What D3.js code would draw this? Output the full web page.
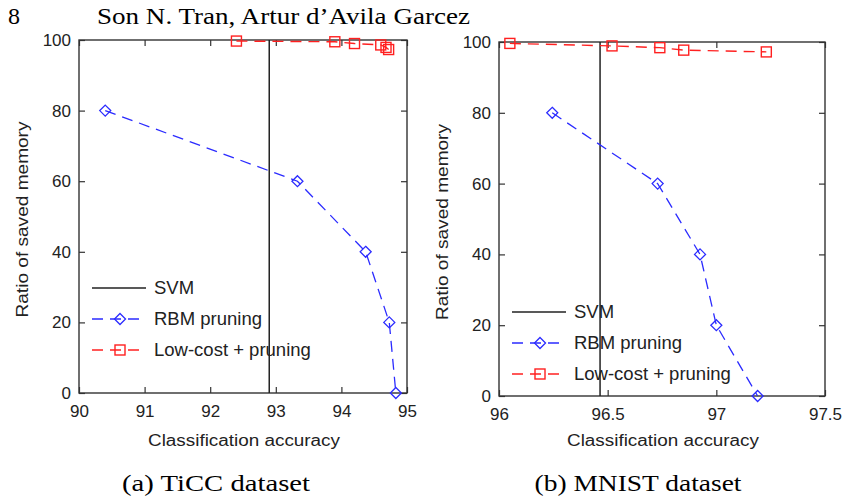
<!DOCTYPE html>
<html lang="en">

<head>
  <meta charset="utf-8">
  <script src="https://cdn.jsdelivr.net/npm/d3@7/dist/d3.min.js"></script>

  <style>
    body {
      margin: 0;
      background: #fff;
      overflow: hidden;
    }

    .tick text {
      font-family: "Liberation Sans", Arial, sans-serif;
      font-size: 17px;
      fill: #222;
    }

    .label {
      font-family: "Liberation Sans", Arial, sans-serif;
      font-size: 16px;
      fill: #222;
    }

    .legend text {
      font-family: "Liberation Sans", Arial, sans-serif;
      font-size: 18.5px;
      fill: #222;
    }

    .serif {
      font-family: "Liberation Serif", "DejaVu Serif", serif;
      fill: #000;
    }
  </style>
</head>

<body>
  <svg id="chart" width="843" height="497"></svg>

  <script>
    // values
    var memTicks = [0, 20, 40, 60, 80, 100];

    var ticcTicks = [90, 91, 92, 93, 94, 95];
    var ticcSvm = 92.9;
    var ticcRbmAcc = [90.4, 93.33, 94.37, 94.73, 94.83];
    var ticcRbmMem = [80, 60, 40, 20, 0];
    var ticcLowAcc = [92.4, 93.9, 94.2, 94.6, 94.68, 94.72];
    var ticcLowMem = [99.7, 99.5, 99.0, 98.6, 97.9, 97.3];

    var mnistTicks = [96, 96.5, 97, 97.5];
    var mnistSvm = 96.465;
    var mnistRbmAcc = [96.245, 96.73, 96.925, 97.0, 97.19];
    var mnistRbmMem = [80, 60, 40, 20, 0];
    var mnistLowAcc = [96.05, 96.52, 96.74, 96.85, 97.23];
    var mnistLowMem = [99.6, 98.9, 98.4, 97.7, 97.2];

    var legendNames = ['SVM', 'RBM pruning', 'Low-cost + pruning'];

    var blue = '#2b2bff';
    var red = '#ff2020';
    var dash = '11,7';

    var svg = d3.select('#chart');

    // page header + captions
    svg.append('text').attr('class', 'serif')
      .attr('x', 8).attr('y', 24).style('font-size', '24px').text('8');
    svg.append('text').attr('class', 'serif')
      .attr('x', 97).attr('y', 24).style('font-size', '24px')
      .attr('textLength', 373).attr('lengthAdjust', 'spacingAndGlyphs')
      .text('Son N. Tran, Artur d\u2019Avila Garcez');

    function zip(a, b) {
      return a.map(function (d, i) { return { acc: d, mem: b[i] }; });
    }

    function diamond(sel, r) {
      return sel.append('path')
        .attr('d', 'M0,' + (-r) + 'L' + r + ',0L0,' + r + 'L' + (-r) + ',0Z')
        .attr('fill', 'none').attr('stroke', blue).attr('stroke-width', 1.3);
    }

    function square(sel, r) {
      return sel.append('rect')
        .attr('x', -r).attr('y', -r).attr('width', 2 * r).attr('height', 2 * r)
        .attr('fill', 'none').attr('stroke', red).attr('stroke-width', 1.4);
    }

    function drawPanel(p) {
      var width = p.x1 - p.x0;
      var height = p.y1 - p.y0;

      var x = d3.scaleLinear().domain(p.xDomain).range([0, width]);
      var y = d3.scaleLinear().domain([0, 100]).range([height, 0]);

      var g = svg.append('g')
        .attr('transform', 'translate(' + p.x0 + ',' + p.y0 + ')');

      var fmt = function (d) { return String(d); };

      g.append('g')
        .attr('transform', 'translate(0,' + height + ')')
        .call(d3.axisBottom(x).tickValues(p.xTicks).tickFormat(fmt)
          .tickSize(-6).tickPadding(12));
      g.append('g')
        .call(d3.axisTop(x).tickValues(p.xTicks).tickFormat('').tickSize(-6));
      g.append('g')
        .call(d3.axisLeft(y).tickValues(memTicks).tickSize(-6).tickPadding(8));
      g.append('g')
        .attr('transform', 'translate(' + width + ',0)')
        .call(d3.axisRight(y).tickValues(memTicks).tickFormat('').tickSize(-6));

      g.selectAll('.domain').remove();
      g.selectAll('.tick line').attr('stroke', '#333').attr('stroke-width', 1.2);

      g.append('rect')
        .attr('width', width).attr('height', height)
        .attr('fill', 'none').attr('stroke', '#333').attr('stroke-width', 1.4);

      // SVM vertical line
      g.append('line')
        .attr('x1', x(p.svm)).attr('x2', x(p.svm))
        .attr('y1', 0).attr('y2', height)
        .attr('stroke', '#222').attr('stroke-width', 1.5);

      var line = d3.line()
        .x(function (d) { return x(d.acc); })
        .y(function (d) { return y(d.mem); });

      var rbm = zip(p.rbmAcc, p.rbmMem);
      var low = zip(p.lowAcc, p.lowMem);

      g.append('path').datum(rbm)
        .attr('d', line).attr('fill', 'none')
        .attr('stroke', blue).attr('stroke-width', 1.3)
        .attr('stroke-dasharray', dash);
      g.selectAll('.rbm').data(rbm).enter().append('g')
        .attr('class', 'rbm')
        .attr('transform', function (d) { return 'translate(' + x(d.acc) + ',' + y(d.mem) + ')'; })
        .each(function () { diamond(d3.select(this), 5.5); });

      g.append('path').datum(low)
        .attr('d', line).attr('fill', 'none')
        .attr('stroke', red).attr('stroke-width', 1.4)
        .attr('stroke-dasharray', dash);
      g.selectAll('.low').data(low).enter().append('g')
        .attr('class', 'low')
        .attr('transform', function (d) { return 'translate(' + x(d.acc) + ',' + y(d.mem) + ')'; })
        .each(function () { square(d3.select(this), 5); });

      // legend (no box)
      var lg = svg.append('g').attr('class', 'legend');
      legendNames.forEach(function (name, i) {
        var ly = p.legendY + i * 31;
        var lx0 = p.x0 + 13, lx1 = p.x0 + 67, mid = p.x0 + 41;
        var row = lg.append('g');
        row.append('line')
          .attr('x1', lx0).attr('x2', lx1).attr('y1', ly).attr('y2', ly)
          .attr('stroke', i === 0 ? '#222' : (i === 1 ? blue : red))
          .attr('stroke-width', i === 0 ? 1.5 : 1.3)
          .attr('stroke-dasharray', i === 0 ? null : dash);
        if (i === 1) diamond(row.append('g').attr('transform', 'translate(' + mid + ',' + ly + ')'), 5.5);
        if (i === 2) square(row.append('g').attr('transform', 'translate(' + mid + ',' + ly + ')'), 5);
        row.append('text')
          .attr('x', p.x0 + 75).attr('y', ly)
          .attr('dy', '0.35em')
          .text(name);
      });

      // axis labels
      svg.append('text').attr('class', 'label')
        .attr('text-anchor', 'middle')
        .attr('x', p.x0 + width / 2 + 1).attr('y', 446)
        .attr('textLength', 192).attr('lengthAdjust', 'spacingAndGlyphs')
        .text('Classification accuracy');
      svg.append('text').attr('class', 'label')
        .attr('text-anchor', 'middle')
        .attr('transform', 'translate(' + (p.x0 - 57) + ',' + (p.y0 + height / 2 + 3) + ') rotate(-90)')
        .attr('dy', '0.35em')
        .attr('textLength', 196).attr('lengthAdjust', 'spacingAndGlyphs')
        .text('Ratio of saved memory');

      // caption
      svg.append('text').attr('class', 'serif')
        .attr('text-anchor', 'middle')
        .attr('x', p.capX).attr('y', 491).style('font-size', '23px')
        .attr('textLength', p.capLen).attr('lengthAdjust', 'spacingAndGlyphs')
        .text(p.caption);
    }

    drawPanel({
      x0: 79, x1: 407, y0: 40, y1: 393,
      xDomain: [90, 95], xTicks: ticcTicks, svm: ticcSvm,
      rbmAcc: ticcRbmAcc, rbmMem: ticcRbmMem,
      lowAcc: ticcLowAcc, lowMem: ticcLowMem,
      legendY: 288, caption: '(a) TiCC dataset', capX: 216, capLen: 188
    });

    drawPanel({
      x0: 499, x1: 825, y0: 42, y1: 396,
      xDomain: [96, 97.5], xTicks: mnistTicks, svm: mnistSvm,
      rbmAcc: mnistRbmAcc, rbmMem: mnistRbmMem,
      lowAcc: mnistLowAcc, lowMem: mnistLowMem,
      legendY: 312, caption: '(b) MNIST dataset', capX: 638, capLen: 207
    });
  </script>
</body>

</html>
